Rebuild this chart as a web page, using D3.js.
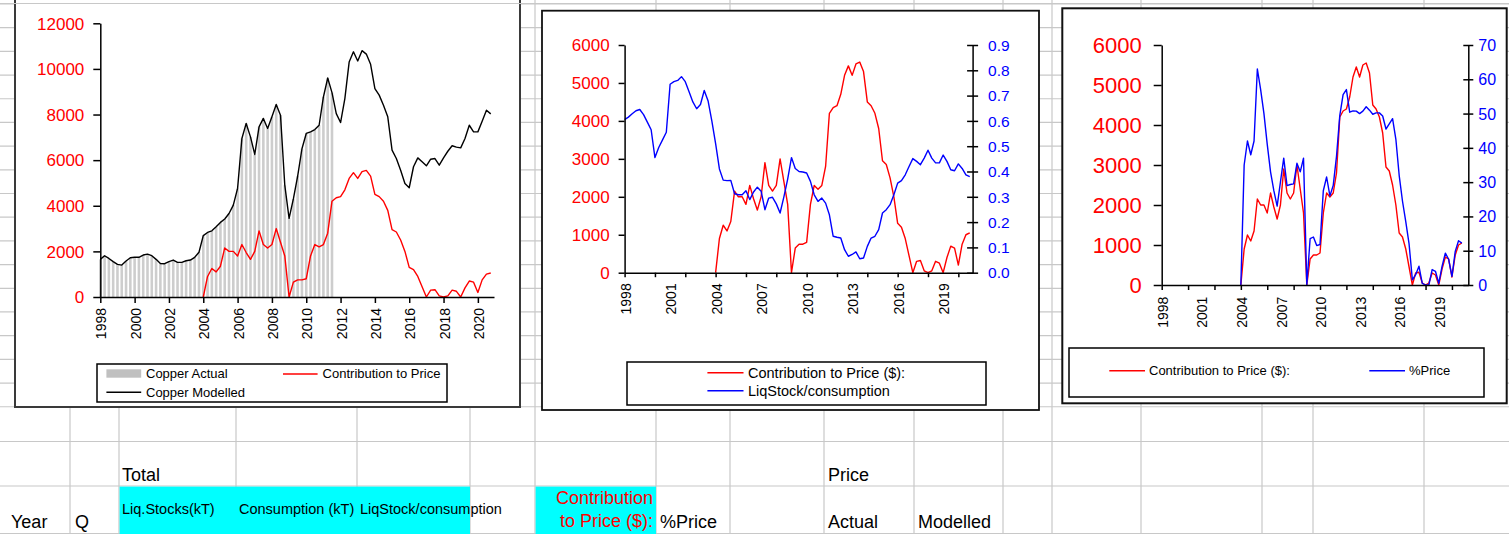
<!DOCTYPE html>
<html>
<head>
<meta charset="utf-8">
<script src="https://cdn.jsdelivr.net/npm/d3@7"></script>
<style>
  html, body { margin: 0; padding: 0; background: #fff; }
  svg { display: block; }
</style>
</head>
<body>
<svg id="sheet" width="1509" height="534"></svg>
<script>
// ---- categories: quarterly series 1998Q1 .. 2020Q4 ----
const years = [1998, 1999, 2000, 2001, 2002, 2003, 2004, 2005, 2006, 2007, 2008, 2009,
               2010, 2011, 2012, 2013, 2014, 2015, 2016, 2017, 2018, 2019, 2020];
const quarters = [1, 2, 3, 4];

// ---- series values ($/t, ratio, %) ----
const copperModelled = [
  1650, 1810, 1690, 1550,   1430, 1400, 1580, 1720,   1740, 1740, 1840, 1880,
  1810, 1650, 1470, 1460,   1550, 1620, 1520, 1520,   1590, 1620, 1740, 1960,
  2690, 2830, 2900, 3080,   3270, 3420, 3660, 4030,   4760, 6950, 7610, 7020,
  6250, 7460, 7830, 7390,   7900, 8440, 7970, 4900,   3450, 4300, 5300, 6500,
  7170, 7240, 7340, 7530,   8770, 9600, 8960, 8040,   7650, 8700, 10300, 10750,
  10350, 10800, 10650, 10200, 9140, 8850, 8410, 7900, 6440, 6070, 5560, 4980,
  4790, 5710, 6100, 5930,   5750, 6040, 6070, 5780,   6100, 6390, 6630, 6570,
  6540, 6950, 7530, 7240,   7240, 7710, 8190, 8030
];
const copperActual = [
  1650, 1810, 1690, 1550,   1430, 1400, 1580, 1720,   1740, 1740, 1840, 1880,
  1810, 1650, 1470, 1460,   1550, 1620, 1520, 1520,   1590, 1620, 1740, 1960,
  2690, 2830, 2900, 3080,   3270, 3420, 3660, 4030,   4760, 6950, 7610, 7020,
  6250, 7460, 7830, 7390,   7900, 8440, 7970, 4900,   3450, 4300, 5300, 6500,
  7170, 7240, 7340, 7530,   8770, 9600, 8960
];
const contribution = [
  null, null, null, null,   null, null, null, null,   null, null, null, null,
  null, null, null, null,   null, null, null, null,   null, null, null, null,
  0, 900, 1250, 1100,       1350, 2150, 2000, 2000,   1800, 2300, 1950, 1650,
  2000, 2900, 2300, 2150,   2300, 3000, 2400, 1800,   0, 650, 750, 750,
  800, 1800, 2300, 2200,    2300, 2800, 4200, 4350,   4400, 4700, 5200, 5450,
  5200, 5500, 5550, 5300,   4500, 4400, 4200, 3800,   2950, 2850, 2500, 2000,
  1300, 1200, 900, 450,     0, 300, 320, 50,          0, 50, 300, 250,
  0, 400, 700, 650,         200, 750, 1000, 1050
];
const liqStockRatio = [
  0.605, 0.615, 0.628, 0.640,  0.645, 0.625, 0.595, 0.565,  0.455, 0.495, 0.525, 0.555,
  0.745, 0.755, 0.760, 0.775,  0.755, 0.715, 0.675, 0.648,  0.665, 0.720, 0.680, 0.600,
  0.510, 0.410, 0.366, 0.364,  0.365, 0.312, 0.308, 0.308,  0.324, 0.289, 0.319, 0.338,
  0.322, 0.249, 0.295, 0.298,  0.272, 0.236, 0.300, 0.370,  0.455, 0.412, 0.400, 0.398,
  0.394, 0.361, 0.308, 0.282,  0.295, 0.275, 0.229, 0.144,  0.140, 0.137, 0.091, 0.065,
  0.072, 0.082, 0.055, 0.058,  0.104, 0.137, 0.144, 0.170,  0.236, 0.249, 0.269, 0.308,
  0.354, 0.364, 0.387, 0.420,  0.451, 0.440, 0.427, 0.453,  0.484, 0.453, 0.434, 0.434,
  0.465, 0.440, 0.407, 0.403,  0.430, 0.412, 0.387, 0.380
];
const pctPrice = [
  null, null, null, null,   null, null, null, null,   null, null, null, null,
  null, null, null, null,   null, null, null, null,   null, null, null, null,
  0, 35, 42, 38,            42, 63, 57, 50,           41, 33, 27.5, 23,
  30, 37, 29, 29.3,         29.5, 35.5, 33, 37,       0, 13.5, 14, 11.5,
  11.8, 27.5, 31.5, 26,     29, 37.5, 49.5, 55.5,     57, 50.4, 50.8, 50.7,
  50, 50.7, 52, 51,         49.8, 50.2, 50.2, 49.3,   45.5, 47, 48.5, 42.5,
  32, 24.5, 18.5, 12,       1.5, 3, 5.5, 0.5,         0, 0, 4.5, 4,
  0.5, 5.4, 9.3, 7.5,       2.5, 9.8, 12.9, 12.2
];

// ---- tick labels ----
const everyTwoYears = [1998, 2000, 2002, 2004, 2006, 2008, 2010, 2012, 2014, 2016, 2018, 2020];
const everyThreeYears = [1998, 2001, 2004, 2007, 2010, 2013, 2016, 2019];
const priceTicks = [0, 2000, 4000, 6000, 8000, 10000, 12000];
const contribTicks = [0, 1000, 2000, 3000, 4000, 5000, 6000];
const ratioTicks = [0, 0.1, 0.2, 0.3, 0.4, 0.5, 0.6, 0.7, 0.8, 0.9];
const pctTicks = [0, 10, 20, 30, 40, 50, 60, 70];

// ---- header cells of the worksheet ----
const headerTop = ["Total", "Price"];
const headerBottom = ["Year", "Q", "Liq.Stocks(kT)", "Consumption (kT)", "LiqStock/consumption",
                      "Contribution", "to Price ($):", "%Price", "Actual", "Modelled"];

// ---------------------------------------------------------------------------
const FONT = '"Liberation Sans", Arial, Helvetica, sans-serif';
const RED = "#ff0000", BLUE = "#0000ff";
const svg = d3.select("#sheet").attr("font-family", FONT);

const periods = years.flatMap(y => quarters.map(q => y + (q - 1) / 4));
const asPoints = arr => arr.map((v, i) => ({ t: periods[i], v }));

// worksheet grid
const colEdges = [70, 119, 236, 357, 470, 535, 656, 730, 824, 914, 1003, 1052, 1141, 1262, 1313, 1424];
const rowEdges = d3.range(18).map(k => 4 + k * 23.69).concat([441.5, 486, 533.5]);
const grid = svg.append("g").attr("stroke", "#c8c8c8").attr("stroke-width", 1.2);
colEdges.forEach(x => grid.append("line").attr("x1", x).attr("x2", x).attr("y1", 0).attr("y2", 534));
rowEdges.forEach(y => grid.append("line").attr("x1", 0).attr("x2", 1509).attr("y1", y).attr("y2", y));

// highlighted header cells
svg.append("rect").attr("x", 119.6).attr("y", 486.6).attr("width", 350.4).attr("height", 48).attr("fill", "#00ffff");
svg.append("rect").attr("x", 535.6).attr("y", 486.6).attr("width", 120.4).attr("height", 48).attr("fill", "#00ffff");

const cell = (txt, x, y, size, color, anchor) =>
  svg.append("text").attr("x", x).attr("y", y).attr("font-size", size)
     .attr("fill", color || "#000").attr("text-anchor", anchor || "start").text(txt);
cell(headerTop[0], 122, 481, 18);
cell(headerTop[1], 828, 481, 18);
cell(headerBottom[0], 11, 528, 18);
cell(headerBottom[1], 75, 528, 18);
cell(headerBottom[2], 122, 514, 14.5);
cell(headerBottom[3], 239, 514, 14.5);
cell(headerBottom[4], 360, 514, 14.5);
cell(headerBottom[5], 653, 504, 18, RED, "end");
cell(headerBottom[6], 653, 527, 18, RED, "end");
cell(headerBottom[7], 660, 528, 18);
cell(headerBottom[8], 828, 528, 18);
cell(headerBottom[9], 918, 528, 18);

// ---------------------------------------------------------------------------
// helpers for the three embedded charts
function chartFrame(x0, y0, x1, y1, color, width) {
  svg.append("rect").attr("x", x0).attr("y", y0).attr("width", x1 - x0).attr("height", y1 - y0)
     .attr("fill", "#fff").attr("stroke", color).attr("stroke-width", width);
}

function styleAxis(g) {
  g.attr("font-family", FONT);
  g.select(".domain").attr("stroke", "#000").attr("stroke-width", 1.5);
  g.selectAll(".tick line").attr("stroke", "#000").attr("stroke-width", 1.5);
}

// category axis: tick marks at one interval, rotated year labels at another
function timeAxis(x, yPos, tickYears, labelYears, tickLen, gap) {
  const g = svg.append("g").attr("transform", `translate(0,${yPos})`)
    .call(d3.axisBottom(x).tickValues(tickYears).tickSizeInner(tickLen).tickSizeOuter(0).tickFormat(() => ""));
  styleAxis(g);
  const gl = svg.append("g").attr("transform", `translate(0,${yPos})`)
    .call(d3.axisBottom(x).tickValues(labelYears).tickSize(0).tickFormat(d3.format("d")));
  gl.attr("font-family", FONT);
  gl.select(".domain").remove();
  gl.selectAll(".tick line").remove();
  gl.selectAll(".tick text")
    .attr("font-size", 14).attr("fill", "#000")
    .attr("transform", "rotate(-90)").attr("text-anchor", "end")
    .attr("x", -gap).attr("y", 0).attr("dy", "0.4em");
  return g;
}

function valueAxis(scale, side, xPos, ticks, fmt, color, size, tickOut, tickIn, pad) {
  const axis = side === "left" ? d3.axisLeft(scale) : d3.axisRight(scale);
  const g = svg.append("g").attr("transform", `translate(${xPos},0)`)
    .call(axis.tickValues(ticks).tickSizeInner(tickOut).tickSizeOuter(0).tickPadding(pad).tickFormat(fmt));
  styleAxis(g);
  const dir = side === "left" ? -1 : 1;
  g.selectAll(".tick line").attr("x1", -dir * tickIn).attr("x2", dir * tickOut);
  g.selectAll(".tick text").attr("font-size", size).attr("fill", color).attr("dy", "0.34em");
  return g;
}

function seriesLine(points, x, y, color) {
  svg.append("path").datum(points)
    .attr("fill", "none").attr("stroke", color).attr("stroke-width", 1.4).attr("stroke-linejoin", "round")
    .attr("d", d3.line().defined(d => d.v != null).x(d => x(d.t)).y(d => y(d.v)));
}

function legendFrame(x0, y0, x1, y1) {
  svg.append("rect").attr("x", x0).attr("y", y0).attr("width", x1 - x0).attr("height", y1 - y0)
     .attr("fill", "#fff").attr("stroke", "#000").attr("stroke-width", 1.5);
}
function legendLine(x0, x1, y, color) {
  svg.append("line").attr("x1", x0).attr("x2", x1).attr("y1", y).attr("y2", y)
     .attr("stroke", color).attr("stroke-width", 1.4);
}
function legendText(txt, x, y, size) {
  svg.append("text").attr("x", x).attr("y", y).attr("font-size", size).attr("fill", "#000").text(txt);
}

// ---------------------------------------------------------------------------
// Chart 1: copper price, actual vs modelled, with contribution to price
chartFrame(15, -20, 520, 407, "#3a3a3a", 2);
{
  const x = d3.scaleLinear().domain([1998, 2020.94]).range([100.3, 494]);
  const y = d3.scaleLinear().domain([0, 12000]).range([297, 23.3]);
  const step = x(1998.25) - x(1998);

  svg.append("g").selectAll("rect").data(asPoints(copperActual)).join("rect")
    .attr("x", d => x(d.t) - step * 0.3).attr("width", step * 0.6)
    .attr("y", d => y(d.v)).attr("height", d => y(0) - y(d.v))
    .attr("fill", "#cdcdcd");

  seriesLine(asPoints(contribution), x, y, RED);
  seriesLine(asPoints(copperModelled), x, y, "#000");

  valueAxis(y, "left", 100.3, priceTicks, d3.format("d"), RED, 17, 7, 0, 9);
  timeAxis(x, 297, everyTwoYears, everyTwoYears, 6, 11);

  legendFrame(97, 364, 447, 402);
  svg.append("rect").attr("x", 106.4).attr("y", 369.3).attr("width", 34.8).attr("height", 8.4).attr("fill", "#c0c0c0");
  legendText("Copper Actual", 146, 377.5, 13);
  legendLine(283, 317.6, 374, RED);
  legendText("Contribution to Price", 322.6, 377.5, 13);
  legendLine(106.4, 141.2, 392.3, "#000");
  legendText("Copper Modelled", 146, 396.5, 13);
}

// Chart 2: contribution to price against liquid stocks / consumption
chartFrame(542, 10.7, 1039, 410, "#111", 1.8);
{
  const x = d3.scaleLinear().domain([1998, 2020.94]).range([624.6, 972.6]);
  const yL = d3.scaleLinear().domain([0, 6000]).range([272.7, 45]);
  const yR = d3.scaleLinear().domain([0, 0.9]).range([272.7, 45]);

  seriesLine(asPoints(contribution), x, yL, RED);
  seriesLine(asPoints(liqStockRatio), x, yR, BLUE);

  valueAxis(yL, "left", 624.6, contribTicks, d3.format("d"), RED, 17, 6, 0, 9);
  valueAxis(yR, "right", 972.6, ratioTicks, d3.format(".1f"), BLUE, 15.5, 5.5, 5.5, 10);
  timeAxis(x, 272.7, everyTwoYears, everyThreeYears, 4.5, 10.6);

  legendFrame(627, 362, 986, 405);
  legendLine(707.4, 743.5, 372.7, RED);
  legendText("Contribution to Price ($):", 748, 378, 14.5);
  legendLine(707.4, 743.5, 390.7, BLUE);
  legendText("LiqStock/consumption", 748, 396.3, 14.5);
}

// Chart 3: contribution to price against its share of the price
chartFrame(1062.3, 8.3, 1506.7, 403.3, "#111", 2);
{
  const x = d3.scaleLinear().domain([1998, 2021.24]).range([1161.7, 1468.3]);
  const yL = d3.scaleLinear().domain([0, 6000]).range([285, 45]);
  const yR = d3.scaleLinear().domain([0, 70]).range([285, 45]);

  seriesLine(asPoints(contribution), x, yL, RED);
  seriesLine(asPoints(pctPrice), x, yR, BLUE);

  valueAxis(yL, "left", 1161.7, contribTicks, d3.format("d"), RED, 22, 8, 0, 12);
  valueAxis(yR, "right", 1468.3, pctTicks, d3.format("d"), BLUE, 16, 5, 5, 5);
  timeAxis(x, 285, everyTwoYears, everyThreeYears, 5, 11.7);

  legendFrame(1069, 348, 1484, 397);
  legendLine(1109.3, 1145, 370.7, RED);
  legendText("Contribution to Price ($):", 1149, 375, 13);
  legendLine(1369.3, 1405, 370.7, BLUE);
  legendText("%Price", 1409, 375, 13);
}

// top edge of the visible worksheet area
svg.append("line").attr("x1", 0).attr("x2", 1509).attr("y1", 3.5).attr("y2", 3.5)
   .attr("stroke", "#c8c8c8").attr("stroke-width", 1.2);
</script>
</body>
</html>
